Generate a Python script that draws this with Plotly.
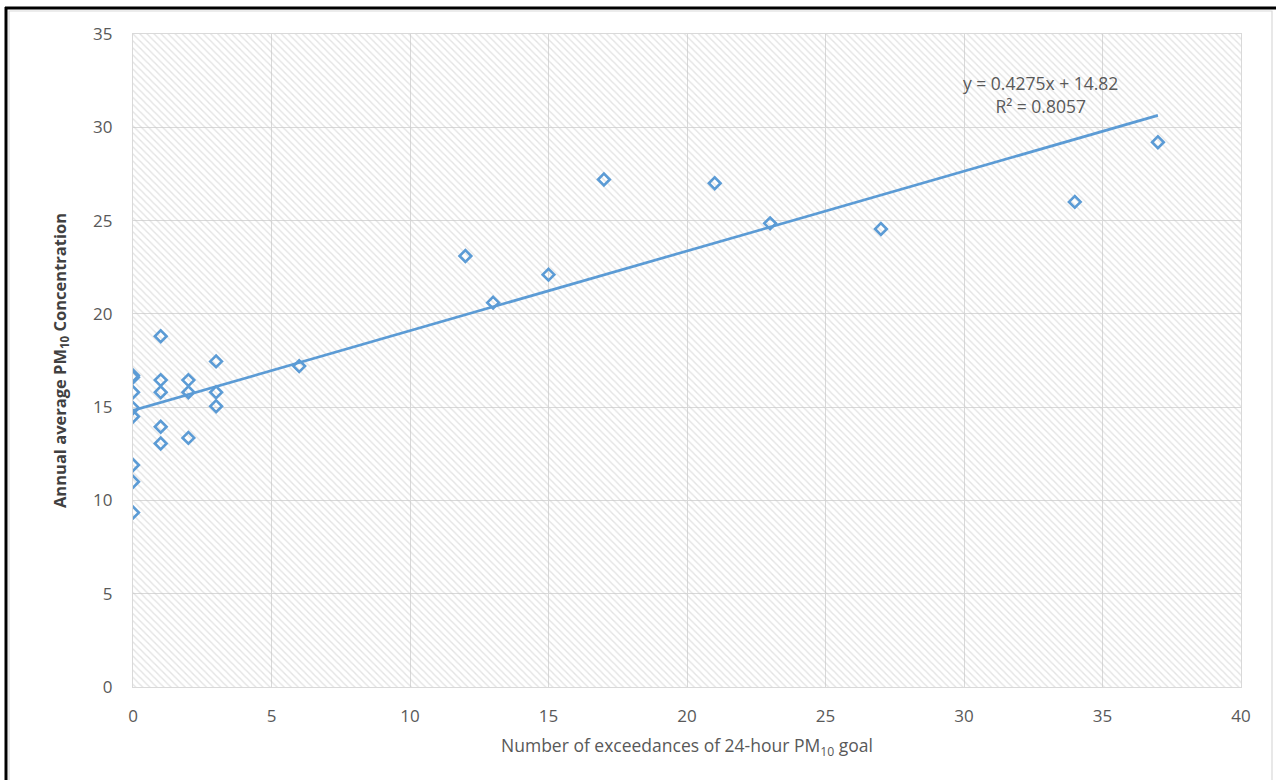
import plotly.graph_objects as go

# ---- data ----
exceedances = [0, 0, 0, 0, 0, 0, 0, 0,
               1, 1, 1, 1, 1,
               2, 2, 2,
               3, 3, 3,
               6, 12, 13, 15, 17, 21, 23, 27, 34, 37]
pm10_avg = [16.7, 16.6, 15.8, 14.95, 14.5, 11.9, 11.0, 9.35,
            18.8, 16.45, 15.8, 13.95, 13.05,
            16.45, 15.8, 13.35,
            17.45, 15.8, 15.05,
            17.2, 23.1, 20.6, 22.1, 27.2, 27.0, 24.85, 24.55, 26.0, 29.2]
trend_slope = 0.4275
trend_intercept = 14.82
trend_x = [0, 37]
trend_label = "y = 0.4275x + 14.82<br>R² = 0.8057"
x_range = [0, 40]
y_range = [0, 35]

W, H = 1276, 780
L, R, T, B = 133, 1241, 34, 687
BLUE = "#5b9bd5"
GRID = "#d9d9d9"
TXT = "#595959"
FONT = "Open Sans"


def px(xp):
    return (xp - L) / (R - L)


def py(yp):
    return (B - yp) / (B - T)


fig = go.Figure()

# hatched plot background
fig.add_trace(go.Scatter(
    x=[x_range[0], x_range[1], x_range[1], x_range[0], x_range[0]],
    y=[y_range[0], y_range[0], y_range[1], y_range[1], y_range[0]],
    mode="lines", line=dict(width=0), fill="toself",
    fillcolor="rgba(0,0,0,0)",
    fillpattern=dict(shape="\\", fgcolor="#c8c8c8", bgcolor="rgba(0,0,0,0)",
                     size=5, solidity=0.28),
    hoverinfo="skip", showlegend=False))

# trend line
fig.add_trace(go.Scatter(
    x=trend_x, y=[trend_slope * v + trend_intercept for v in trend_x],
    mode="lines", line=dict(color=BLUE, width=2.7), showlegend=False))

# data points
fig.add_trace(go.Scatter(
    x=exceedances, y=pm10_avg, mode="markers",
    marker=dict(symbol="diamond-open", size=9, color=BLUE,
                line=dict(width=2.6, color=BLUE)),
    showlegend=False))

fig.add_annotation(x=px(1040), y=py(94), xref="paper", yref="paper", text=trend_label,
                   xanchor="center", yanchor="middle",
                   showarrow=False, font=dict(family=FONT, size=17.5, color=TXT), align="center")

fig.update_layout(
    width=W, height=H,
    margin=dict(l=L, r=W - R, t=T, b=H - B),
    paper_bgcolor="white", plot_bgcolor="white",
    font=dict(family=FONT, size=17, color=TXT),
    xaxis=dict(range=x_range, dtick=5, showgrid=True, gridcolor=GRID, gridwidth=1.3,
               zeroline=False, showline=True, linecolor=GRID, linewidth=1.3, mirror=True,
               ticks="", ticklabelstandoff=13, tickfont=dict(family=FONT, size=17, color=TXT),
               title=dict(text="Number of exceedances of 24-hour PM<sub>10</sub> goal",
                          font=dict(family=FONT, size=17.5, color=TXT), standoff=14)),
    yaxis=dict(range=y_range, dtick=5, showgrid=True, gridcolor=GRID, gridwidth=1.3,
               zeroline=False, showline=True, linecolor=GRID, linewidth=1.3, mirror=True,
               ticks="", ticklabelstandoff=16, tickfont=dict(family=FONT, size=17, color=TXT),
               title=dict(text="<b>Annual average PM<sub>10</sub> Concentration</b>",
                          font=dict(family=FONT, size=16.5, color="#404040"), standoff=22)),
    shapes=[
        # light gray chart border
        dict(type="rect", xref="paper", yref="paper", x0=px(9), x1=px(1272), y0=py(790), y1=py(11),
             line=dict(color="#d9d9d9", width=1.2), layer="below"),
        # black outer frame (left and top)
        dict(type="line", xref="paper", yref="paper", x0=px(6), x1=px(6), y0=py(800), y1=py(7),
             line=dict(color="black", width=3)),
        dict(type="line", xref="paper", yref="paper", x0=px(5), x1=px(1290), y0=py(8), y1=py(8),
             line=dict(color="black", width=3)),
    ],
)

fig.write_html("out.html", config={"displayModeBar": False},
               post_script="document.body.style.margin='0px';document.body.style.overflow='hidden';")
